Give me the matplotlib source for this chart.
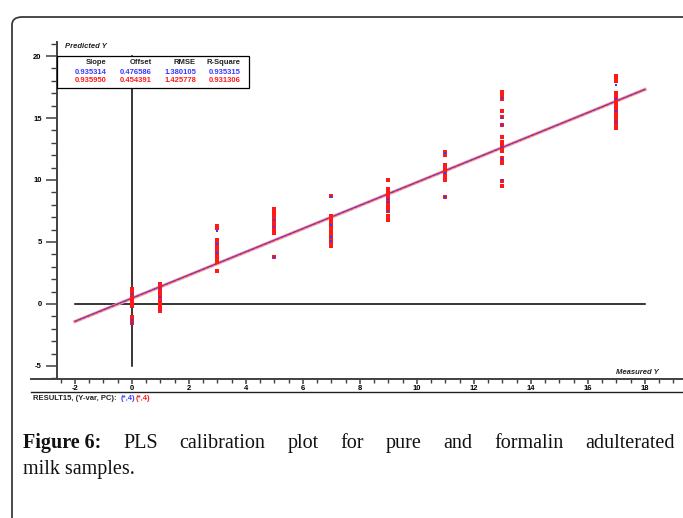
import matplotlib
matplotlib.use('Agg')
import matplotlib.pyplot as plt
from matplotlib.patches import FancyBboxPatch, Rectangle
from matplotlib.lines import Line2D
from matplotlib.ticker import MultipleLocator

plt.rcParams['axes.unicode_minus'] = False

# measured levels and predicted values
x_levels = [0, 1, 3, 5, 7, 9, 11, 13, 17]
red_y = [
    [1.2, 1.0, 0.8, 0.6, 0.4, 0.2, 0.0, -0.2, -1.05, -1.3, -1.55],
    [1.6, 1.4, 1.2, 1.0, 0.8, 0.6, 0.4, 0.2, -0.1, -0.35, -0.6],
    [6.3, 6.1, 5.2, 5.0, 4.8, 4.6, 4.4, 4.2, 4.0, 3.8, 3.6, 3.4, 2.7],
    [7.65, 7.45, 7.25, 7.05, 6.85, 6.65, 6.45, 6.25, 6.0, 5.75, 3.8],
    [8.7, 7.1, 6.9, 6.7, 6.5, 6.3, 6.1, 5.9, 5.7, 5.5, 5.3, 5.1, 4.9, 4.7],
    [10.0, 9.3, 9.1, 8.9, 8.7, 8.5, 8.3, 8.1, 7.9, 7.7, 7.5, 7.1, 6.8],
    [12.25, 12.0, 11.2, 11.0, 10.8, 10.6, 10.4, 10.2, 10.0, 8.6],
    [17.1, 16.9, 16.7, 16.5, 15.6, 15.1, 14.4, 13.5, 13.1, 12.9, 12.7, 12.5,
     12.3, 11.8, 11.6, 11.4, 9.9, 9.5],
    [18.4, 18.2, 18.0, 17.0, 16.8, 16.6, 16.4, 16.2, 16.0, 15.8, 15.6, 15.4,
     15.2, 15.0, 14.8, 14.6, 14.4, 14.2],
]
blue_y = [
    [0.8, -1.3, -1.5],
    [1.3, 0.55],
    [5.9, 4.8, 4.1],
    [6.8, 6.2, 3.8],
    [8.6, 6.4, 5.4, 5.1],
    [8.5, 8.2, 7.5],
    [12.2, 10.6, 8.6],
    [16.6, 15.0, 14.4, 12.7, 11.7, 10.0],
    [17.7, 16.5, 15.6, 14.7],
]

# regression table
table_head = ['Slope', 'Offset', 'RMSE', 'R-Square']
blue_row = ['0.935314', '0.476586', '1.380105', '0.935315']
red_row = ['0.935950', '0.454391', '1.425778', '0.931306']
slope_blue, offset_blue = 0.935314, 0.476586
slope_red, offset_red = 0.935950, 0.454391
line_x = [-2, 18]

W, H = 683, 518
BLUE = '#3a3aff'
RED = '#ff1a1a'
tick_font = {'family': 'Liberation Sans', 'size': 5.5, 'weight': 'bold'}


def fx(px):
    return px / W


def fy(py):
    return 1 - py / H


fig = plt.figure(figsize=(W / 100, H / 100), dpi=100)

# outer rounded frame
frame = FancyBboxPatch((fx(12), fy(560)), fx(700), 560 / H - 17 / H,
                       boxstyle='round,pad=0,rounding_size=0.015',
                       transform=fig.transFigure, fill=False,
                       edgecolor='#3c3c3c', linewidth=1.3, clip_on=False)
fig.patches.append(frame)

ax = fig.add_axes([fx(57), fy(379), fx(680 - 57), (379 - 42) / H])
ax.set_xlim(-2.63, 19.23)
ax.set_ylim(-6.05, 21.13)

for s in ['top', 'right', 'bottom']:
    ax.spines[s].set_visible(False)
ax.spines['left'].set_color('#404040')
ax.spines['left'].set_linewidth(1.4)

# bottom axis line runs past the y axis, plus a rule under the tick labels
fig.add_artist(Line2D([fx(31), fx(683)], [fy(379), fy(379)],
                      color='#404040', lw=1.4))
fig.add_artist(Line2D([fx(31), fx(683)], [fy(392), fy(392)],
                      color='#202020', lw=1.0))

ax.xaxis.set_major_locator(MultipleLocator(2))
ax.xaxis.set_minor_locator(MultipleLocator(0.5))
ax.yaxis.set_major_locator(MultipleLocator(5))
ax.yaxis.set_minor_locator(MultipleLocator(1))
ax.tick_params(axis='x', which='major', length=3.5, width=1.1, pad=1, color='#404040')
ax.tick_params(axis='x', which='minor', length=3, width=1.0, color='#404040')
ax.tick_params(axis='y', which='major', length=8, width=1.1, pad=3, color='#404040')
ax.tick_params(axis='y', which='minor', length=4, width=1.0, color='#404040')
for lab in ax.get_xticklabels() + ax.get_yticklabels():
    lab.set_fontproperties(tick_font)

# cross lines
ax.plot([-2, 18], [0, 0], color='black', lw=1.1, zorder=1)
ax.plot([0, 0], [-5, 20], color='black', lw=1.1, zorder=1)

# regression lines
ly_blue = [slope_blue * v + offset_blue for v in line_x]
ly_red = [slope_red * v + offset_red for v in line_x]
ax.plot(line_x, ly_red, color='#f59a9a', lw=2.4, zorder=2)
ax.plot(line_x, ly_blue, color=BLUE, lw=0.8, zorder=3)
ax.plot(line_x, ly_red, color=RED, lw=0.8, dashes=(2, 2), zorder=3)

# points
rx, ry, bx, by = [], [], [], []
for xv, rs, bs in zip(x_levels, red_y, blue_y):
    rx += [xv] * len(rs)
    ry += rs
    bx += [xv] * len(bs)
    by += bs
ax.plot(rx, ry, 's', color=RED, ms=2.6, mew=0, zorder=4)
ax.plot(bx, by, 's', color=BLUE, ms=1.6, mew=0, zorder=5)

# table box
ax.add_patch(Rectangle((-2.63, 17.4), 6.73, 2.6,
                       facecolor='white', edgecolor='black', lw=0.9,
                       zorder=6, clip_on=False))
col_x = [-0.88, 0.70, 2.25, 3.82]
for cx, h, b, r in zip(col_x, table_head, blue_row, red_row):
    ax.text(cx, 19.5, h, ha='right', va='center', zorder=7,
            fontdict=tick_font, color='#222222')
    ax.text(cx, 18.7, b, ha='right', va='center', zorder=7,
            fontdict=tick_font, color=BLUE)
    ax.text(cx, 18.0, r, ha='right', va='center', zorder=7,
            fontdict=tick_font, color=RED)

fig.text(fx(65), fy(47), 'Predicted Y', ha='left', va='center',
         fontsize=5.5, fontweight='bold', style='italic',
         family='Liberation Sans', color='#222222')
fig.text(fx(659), fy(372), 'Measured Y', ha='right', va='center',
         fontsize=5.5, fontweight='bold', style='italic',
         family='Liberation Sans', color='#222222')

# footer
t = fig.text(fx(33), fy(399), 'RESULT15, (Y-var, PC):  ', ha='left',
             va='center', fontdict=tick_font, color='#222222')
r = fig.canvas.get_renderer()
x0 = t.get_window_extent(r).x1
t2 = fig.text(x0 / W, fy(399), '(*,4)', ha='left', va='center',
              fontdict=tick_font, color=BLUE)
x1 = t2.get_window_extent(r).x1
fig.text(x1 / W, fy(399), '(*,4)', ha='left', va='center',
         fontdict=tick_font, color=RED)

# caption, justified first line
cap_words = ['Figure 6:', 'PLS', 'calibration', 'plot', 'for', 'pure', 'and',
             'formalin', 'adulterated']
cap_size = 14.5
left_px, right_px = 23, 675
items = []
for i, w in enumerate(cap_words):
    tt = fig.text(0, fy(448), w, ha='left', va='baseline', fontsize=cap_size,
                  family='Liberation Serif',
                  fontweight='bold' if i == 0 else 'normal', color='#111111')
    items.append(tt)
widths = [tt.get_window_extent(r).width for tt in items]
gap = (right_px - left_px - sum(widths)) / (len(items) - 1)
xp = left_px
for tt, wd in zip(items, widths):
    tt.set_x(xp / W)
    xp += wd + gap
fig.text(fx(left_px), fy(474), 'milk samples.', ha='left', va='baseline',
         fontsize=cap_size, family='Liberation Serif', color='#111111')

fig.savefig('out.png', dpi=100)
